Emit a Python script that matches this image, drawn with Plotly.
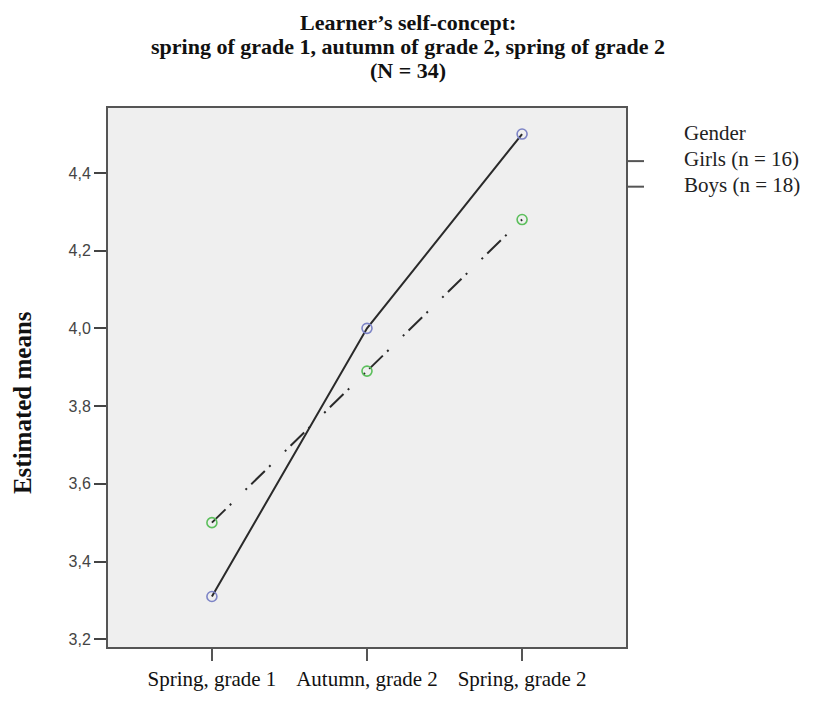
import plotly.graph_objects as go

# ---- data ----
categories = ["Spring, grade 1", "Autumn, grade 2", "Spring, grade 2"]
girls = [3.31, 4.00, 4.50]
boys = [3.50, 3.89, 4.28]
series_names = ["Girls (n = 16)", "Boys (n = 18)"]
legend_title = "Gender"
y_ticks = [3.2, 3.4, 3.6, 3.8, 4.0, 4.2, 4.4]
y_tick_text = ["3,2", "3,4", "3,6", "3,8", "4,0", "4,2", "4,4"]
title_lines = ["Learner’s self-concept:",
               "spring of grade 1, autumn of grade 2, spring of grade 2",
               "(N = 34)"]
y_title = "Estimated means"

# ---- layout geometry (pixels, in page coordinates; page body has an 8px margin) ----
OFF = 8
W, H = 801, 695
L, R, T, B = 108, 626, 108, 656
pw, ph = R - L, B - T


def px(x):
    return (x - L) / pw


def py(y):
    return (B - y) / ph


serif = "Liberation Serif, Times New Roman, serif"
sans = "Liberation Sans, Arial, sans-serif"

fig = go.Figure()
xs = list(range(len(categories)))
fig.add_trace(go.Scatter(
    x=xs, y=girls, mode="lines+markers", name=series_names[0],
    line=dict(color="#2a2a2a", width=2),
    marker=dict(symbol="circle-open", size=10, color="#7d84c6", line=dict(width=1.6)),
    showlegend=False))
fig.add_trace(go.Scatter(
    x=xs, y=boys, mode="lines+markers", name=series_names[1],
    line=dict(color="#2a2a2a", width=2, dash="19px,6px,2px,20px,2px,6px"),
    marker=dict(symbol="circle-open", size=10, color="#5cbf5c", line=dict(width=1.6)),
    showlegend=False))

annotations = []
for line, yc in zip(title_lines, [21, 45.5, 70]):
    annotations.append(dict(text="<b>%s</b>" % line, x=px(408), y=py(yc), xref="paper", yref="paper",
                            xanchor="center", yanchor="middle", showarrow=False,
                            font=dict(family=serif, size=22, color="#111")))
annotations.append(dict(text="<b>%s</b>" % y_title, x=px(22), y=py(408), xref="paper", yref="paper",
                        xanchor="center", yanchor="middle", showarrow=False, textangle=-90,
                        font=dict(family=serif, size=25, color="#111")))
annotations.append(dict(text=legend_title, x=px(682), y=py(133), xref="paper", yref="paper",
                        xanchor="left", yanchor="middle", showarrow=False,
                        font=dict(family=serif, size=21, color="#222")))
shapes = []
for name, yc in zip(series_names, [160, 186]):
    annotations.append(dict(text=name, x=px(682), y=py(yc), xref="paper", yref="paper",
                            xanchor="left", yanchor="middle", showarrow=False,
                            font=dict(family=serif, size=21, color="#222")))
    shapes.append(dict(type="line", xref="paper", yref="paper", x0=px(628), x1=px(644),
                       y0=py(yc + 2), y1=py(yc + 2), line=dict(color="#555", width=2)))

fig.update_layout(
    width=W, height=H,
    margin=dict(l=L - OFF, r=W - (R - OFF), t=T - OFF, b=H - (B - OFF), pad=0),
    paper_bgcolor="white", plot_bgcolor="#efefef",
    annotations=annotations, shapes=shapes,
    xaxis=dict(range=[-0.67, 2.67], tickmode="array", tickvals=xs, ticktext=categories,
               showgrid=False, zeroline=False, showline=True, mirror=True,
               linecolor="#555", linewidth=2, ticks="outside", ticklen=12, tickwidth=1.5,
               tickcolor="#555", tickfont=dict(family=serif, size=21, color="#111")),
    yaxis=dict(range=[3.18, 4.567], tickmode="array", tickvals=y_ticks, ticktext=y_tick_text,
               showgrid=False, zeroline=False, showline=True, mirror=True,
               linecolor="#555", linewidth=2, ticks="outside", ticklen=12, tickwidth=1.5,
               tickcolor="#444", tickfont=dict(family=sans, size=16, color="#444")),
)

fig.write_html("out.html")
